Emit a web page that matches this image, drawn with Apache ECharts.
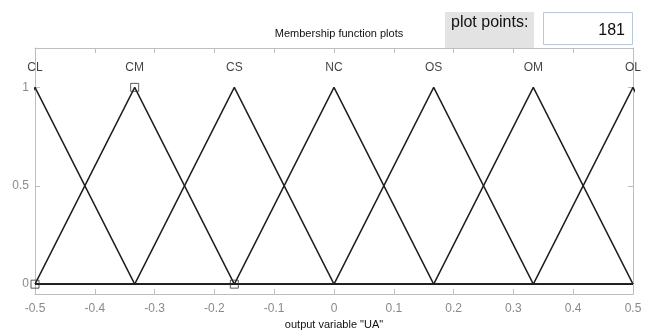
<!DOCTYPE html>
<html>
<head>
<meta charset="utf-8">
<script src="https://cdn.jsdelivr.net/npm/echarts@6/dist/echarts.min.js"></script>
<style>
  html, body { margin: 0; padding: 0; background: #fff; }
  #chart { width: 654px; height: 331px; }
</style>
</head>
<body>
<div id="chart"></div>
<script>
// Output variable "UA": seven triangular membership functions on [-0.5, 0.5]
const mfNames = ['CL', 'CM', 'CS', 'NC', 'OS', 'OM', 'OL'];
const mfLeft  = [-0.6667, -0.5, -0.3333, -0.1667, 0, 0.1667, 0.3333];
const mfPeak  = [-0.5, -0.3333, -0.1667, 0, 0.1667, 0.3333, 0.5];
const mfRight = [-0.3333, -0.1667, 0, 0.1667, 0.3333, 0.5, 0.6667];
const xRange = [-0.5, 0.5];
const xTicks = [-0.5, -0.4, -0.3, -0.2, -0.1, 0, 0.1, 0.2, 0.3, 0.4, 0.5];
const yTicks = [0, 0.5, 1];
const selectedMf = 1;       // CM is the highlighted function
const nameLevel = 1.1;      // height where the function names sit
const plotPoints = 181;

const FONT = '"Liberation Sans", Arial, sans-serif';
const axisGrey = '#bdbdbd';
const labelGrey = '#8a8a8a';

// vertices of each triangle, padded with zero segments to the range ends
const mfSeries = mfNames.map((name, i) => {
  const pts = [];
  if (mfLeft[i] > xRange[0]) pts.push([xRange[0], 0]);
  pts.push([mfLeft[i], 0], [mfPeak[i], 1], [mfRight[i], 0]);
  if (mfRight[i] < xRange[1]) pts.push([xRange[1], 0]);
  return {
    name: name,
    type: 'line',
    data: pts,
    symbol: 'none',
    clip: true,
    lineStyle: { color: '#1e1e1e', width: 1.5 },
    silent: true,
    z: 3
  };
});

const selectedVertices = [
  [mfLeft[selectedMf], 0],
  [mfPeak[selectedMf], 1],
  [mfRight[selectedMf], 0]
];

const option = {
  animation: false,
  backgroundColor: '#ffffff',
  textStyle: { fontFamily: FONT },
  title: {
    text: 'Membership function plots',
    left: 334, top: 23,
    textAlign: 'center',
    textStyle: { fontFamily: FONT, fontSize: 11, fontWeight: 'normal', color: '#111' }
  },
  grid: { left: 35, right: 21, top: 48, bottom: 37, containLabel: false, outerBoundsMode: 'none' },
  xAxis: [
    {
      type: 'value', min: xRange[0], max: xRange[1], interval: 0.1,
      position: 'bottom',
      name: 'output variable "UA"',
      nameLocation: 'middle', nameGap: 24,
      nameTextStyle: { fontFamily: FONT, fontSize: 11, color: '#111' },
      axisLine: { onZero: false, lineStyle: { color: axisGrey, width: 1 } },
      axisTick: { inside: true, length: 5, lineStyle: { color: axisGrey } },
      axisLabel: {
        margin: 9, color: labelGrey, fontSize: 12, fontFamily: FONT,
        formatter: v => {
          const r = Math.round(v * 10) / 10;
          return xTicks.indexOf(r) >= 0 ? String(r) : '';
        }
      },
      splitLine: { show: false }
    },
    {
      type: 'value', min: xRange[0], max: xRange[1], interval: 0.1,
      position: 'top',
      axisLine: { onZero: false, lineStyle: { color: axisGrey, width: 1 } },
      axisTick: { inside: true, length: 5, lineStyle: { color: axisGrey } },
      axisLabel: { show: false },
      splitLine: { show: false }
    }
  ],
  yAxis: [
    {
      type: 'value', min: -0.05, max: 1.2,
      position: 'left',
      axisLine: { show: true, onZero: false, lineStyle: { color: axisGrey, width: 1 } },
      axisTick: { show: true, inside: true, length: 5, customValues: yTicks, lineStyle: { color: axisGrey } },
      axisLabel: { show: true, customValues: yTicks, margin: 6, color: labelGrey, fontSize: 12, fontFamily: FONT },
      splitLine: { show: false }
    },
    {
      type: 'value', min: -0.05, max: 1.2,
      position: 'right',
      axisLine: { show: true, onZero: false, lineStyle: { color: axisGrey, width: 1 } },
      axisTick: { show: true, inside: true, length: 5, customValues: yTicks, lineStyle: { color: axisGrey } },
      axisLabel: { show: false },
      splitLine: { show: false }
    }
  ],
  series: mfSeries.concat([
    {
      name: 'names',
      type: 'scatter',
      symbolSize: 0,
      silent: true,
      data: mfNames.map((n, i) => ({ value: [mfPeak[i], nameLevel], name: n })),
      label: {
        show: true, position: 'inside',
        formatter: p => p.name,
        color: '#111', fontSize: 12, fontFamily: FONT
      },
      z: 4
    },
    {
      name: 'vertices',
      type: 'scatter',
      symbol: 'rect',
      symbolSize: 8,
      silent: true,
      data: selectedVertices,
      itemStyle: { color: 'rgba(255,255,255,0)', borderColor: '#333', borderWidth: 1 },
      z: 5
    }
  ]),
  graphic: [
    {
      type: 'rect', left: 445, top: 12, silent: true,
      shape: { width: 89, height: 36 },
      style: { fill: '#e3e3e3' }, z: 1
    },
    {
      type: 'text', left: 451, top: 15, silent: true,
      style: { text: 'plot points:', font: '16px ' + FONT, fill: '#111' }, z: 2
    },
    {
      type: 'rect', left: 543, top: 12, silent: true,
      shape: { width: 89, height: 32 },
      style: { fill: '#ffffff', stroke: '#b8c8dc', lineWidth: 1 }, z: 2
    },
    {
      type: 'text', right: 29, top: 23, silent: true,
      style: { text: String(plotPoints), font: '16px ' + FONT, fill: '#111', align: 'right' }, z: 3
    }
  ]
};

const chart = echarts.init(document.getElementById('chart'), null, { renderer: 'canvas' });
chart.setOption(option);
</script>
</body>
</html>
